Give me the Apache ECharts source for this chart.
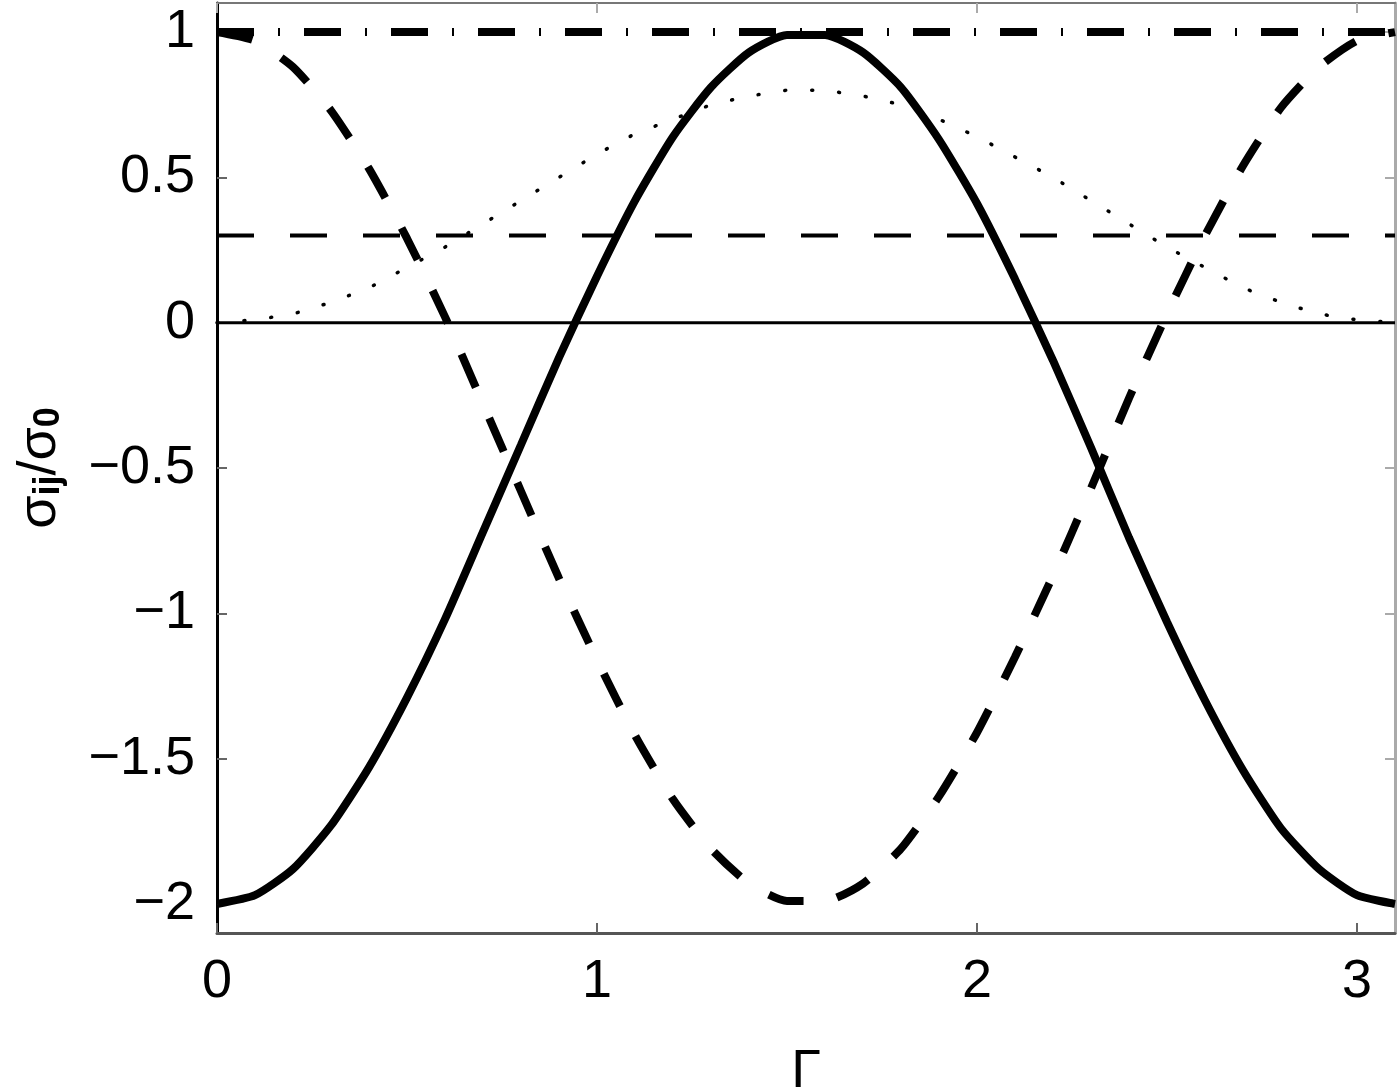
<!DOCTYPE html>
<html>
<head>
<meta charset="utf-8">
<script src="https://cdn.jsdelivr.net/npm/echarts@6/dist/echarts.min.js"></script>
<style>
  html, body { margin: 0; padding: 0; background: #fff; }
  #chart { width: 1400px; height: 1087px; }
</style>
</head>
<body>
<div id="chart"></div>
<script>
// Γ samples
const gamma = [0, 0.1, 0.2, 0.3, 0.4, 0.5, 0.6, 0.7, 0.8, 0.9, 1.0, 1.1, 1.2, 1.3, 1.4, 1.5,
  1.6, 1.7, 1.8, 1.9, 2.0, 2.1, 2.2, 2.3, 2.4, 2.5, 2.6, 2.7, 2.8, 2.9, 3.0, 3.1]

// thick solid
const solidThick = [-2.0, -1.97, -1.88, -1.73, -1.53, -1.29, -1.02, -0.72, -0.42, -0.12, 0.16, 0.42,
  0.64, 0.81, 0.93, 0.99, 0.99, 0.93, 0.81, 0.63, 0.41, 0.15, -0.13, -0.43, -0.74, -1.03,
  -1.30, -1.54, -1.74, -1.88, -1.97, -2.0]

// thick dashed
const dashedThick = [1.0, 0.97, 0.88, 0.73, 0.53, 0.29, 0.02, -0.28, -0.58, -0.88, -1.16, -1.42,
  -1.64, -1.81, -1.93, -1.99, -1.99, -1.93, -1.81, -1.63, -1.41, -1.15, -0.87, -0.57, -0.26,
  0.03, 0.30, 0.54, 0.74, 0.88, 0.97, 1.0]

// thin dotted
const dotted = [0, 0.01, 0.03, 0.07, 0.12, 0.19, 0.26, 0.34, 0.42, 0.50, 0.58, 0.65, 0.70, 0.75,
  0.78, 0.80, 0.80, 0.78, 0.75, 0.70, 0.64, 0.57, 0.50, 0.42, 0.34, 0.26, 0.19, 0.12, 0.07,
  0.03, 0.01, 0]

// horizontal reference levels
const edges = [0, 3.1]
const dashDotLevel = [1, 1]
const thinDashLevel = [0.3, 0.3]
const zeroLevel = [0, 0]

const xTicks = [0, 1, 2, 3]
const yTicks = [-2, -1.5, -1, -0.5, 0, 0.5, 1]

const pairs = (xs, ys) => xs.map((x, i) => [x, ys[i]])
const fmt = v => (v < 0 ? '\u2212' + Math.abs(v) : String(v))
const font = '"Liberation Sans", Arial, sans-serif'

const chart = echarts.init(document.getElementById('chart'))

const line = (data, width, dash, extra) => ({
  type: 'line',
  data,
  symbol: 'none',
  silent: true,
  animation: false,
  lineStyle: { color: '#000', width, type: dash, ...(extra || {}) },
})

chart.setOption({
  backgroundColor: '#fff',
  grid: { left: 217, right: 5, top: 3, bottom: 154, outerBoundsMode: 'none', containLabel: false },
  xAxis: [
    {
      type: 'value',
      min: 0,
      max: 3.1,
      name: 'Γ',
      nameLocation: 'middle',
      nameGap: 112,
      nameTextStyle: { fontSize: 54, color: '#000', fontFamily: font },
      axisLine: { show: true, onZero: false, lineStyle: { color: '#555', width: 3 } },
      axisTick: { inside: true, length: 10, customValues: xTicks, lineStyle: { color: '#666', width: 2 } },
      axisLabel: { customValues: xTicks, fontSize: 54, color: '#000', fontFamily: font, margin: 22, formatter: fmt },
      splitLine: { show: false },
    },
    {
      type: 'value',
      min: 0,
      max: 3.1,
      position: 'top',
      axisLine: { show: true, onZero: false, lineStyle: { color: '#777', width: 2 } },
      axisTick: { inside: true, length: 10, customValues: xTicks, lineStyle: { color: '#aaa', width: 2 } },
      axisLabel: { show: false },
      splitLine: { show: false },
    },
  ],
  yAxis: [
    {
      type: 'value',
      min: -2.1,
      max: 1.1,
      name: '{s|σ}{sub|ij}{s|/σ}{sub|0}',
      nameLocation: 'middle',
      nameRotate: 90,
      nameGap: 150,
      nameTextStyle: {
        color: '#000',
        fontFamily: font,
        rich: {
          s: { fontSize: 54, lineHeight: 54, verticalAlign: 'top', fontFamily: font, color: '#000' },
          sub: { fontSize: 36, lineHeight: 36, fontWeight: 'bold', padding: [36, 0, 0, 0], verticalAlign: 'bottom', fontFamily: font, color: '#000' },
        },
      },
      axisLine: { show: true, onZero: false, lineStyle: { color: '#000', width: 3 } },
      axisTick: { inside: true, length: 10, customValues: yTicks, lineStyle: { color: '#666', width: 2 } },
      axisLabel: { customValues: yTicks, fontSize: 54, color: '#000', fontFamily: font, margin: 22, formatter: fmt },
      splitLine: { show: false },
    },
    {
      type: 'value',
      min: -2.1,
      max: 1.1,
      position: 'right',
      axisLine: { show: true, onZero: false, lineStyle: { color: '#aaa', width: 3 } },
      axisTick: { inside: true, length: 10, customValues: yTicks, lineStyle: { color: '#aaa', width: 2 } },
      axisLabel: { show: false },
      splitLine: { show: false },
    },
  ],
  series: [
    line(pairs(edges, zeroLevel), 3, 'solid'),
    line(pairs(edges, thinDashLevel), 4, [37, 36]),
    line(pairs(gamma, dotted), 3.5, [1, 26], { cap: 'round' }),
    line(pairs(edges, dashDotLevel), 8, [37, 24, 2, 24]),
    { ...line(pairs(gamma, dashedThick), 8, [36, 34]), smooth: 0.2 },
    { ...line(pairs(gamma, solidThick), 8, 'solid'), smooth: 0.2 },
  ],
})
</script>
</body>
</html>
